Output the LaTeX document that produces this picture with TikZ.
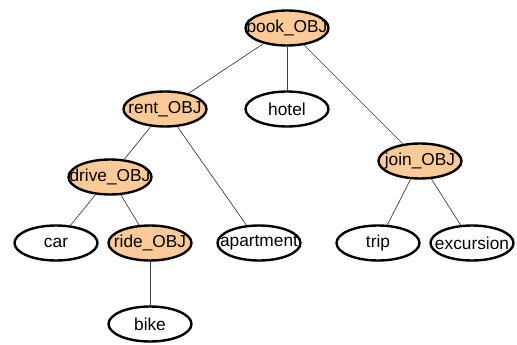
\documentclass[tikz,border=0pt]{standalone}
\usepackage{fontspec}
\setmainfont{Liberation Sans}
\usetikzlibrary{positioning,shapes.geometric}
\definecolor{objfill}{RGB}{252,202,152}
\tikzset{
    on grid,
    x=1pt,
    y=1pt,
    word/.style = {
        draw,
        shape=ellipse,
        minimum width=83pt,
        minimum height=35pt,
        inner xsep=-30pt,
        inner ysep=0pt,
        line width=2.4pt,
        font=\fontsize{17.3}{18}\selectfont
    },
    obj/.style = {
        word,
        fill=objfill
    },
    branch/.style = {
        draw=black!75,
        line width=0.7pt
    }
}

\begin{document}
\begin{tikzpicture}
        \useasboundingbox (0,0) rectangle (517,-345);

        \node[obj] (book) at (287,-28) {book\_OBJ};
        \node[obj, below left=81pt and 122pt of book] (rent) {rent\_OBJ};
        \node[word, below=81pt of book] (hotel) {hotel};
        \node[obj, below right=133pt and 133pt of book] (join) {join\_OBJ};

        \node[obj, below left=68pt and 55pt of rent] (drive) {drive\_OBJ};
        \node[word, below left=66pt and 54pt of drive] (car) {car};
        \node[obj, below right=66pt and 40pt of drive] (ride) {ride\_OBJ};
        \node[word, right=109pt of ride] (apartment) {apartment};
        \node[word, below=81pt of ride] (bike) {bike};

        \node[word, below left=82pt and 42pt of join] (trip) {trip};
        \node[word, below right=82pt and 52pt of join] (excursion) {excursion};

        \path[branch] (book) -- (rent);
        \path[branch] (book) -- (hotel);
        \path[branch] (book) -- (join);
        \path[branch] (rent) -- (drive);
        \path[branch] (rent) -- (apartment);
        \path[branch] (drive) -- (car);
        \path[branch] (drive) -- (ride);
        \path[branch] (ride) -- (bike);
        \path[branch] (join) -- (trip);
        \path[branch] (join) -- (excursion);
    \end{tikzpicture}
\end{document}
